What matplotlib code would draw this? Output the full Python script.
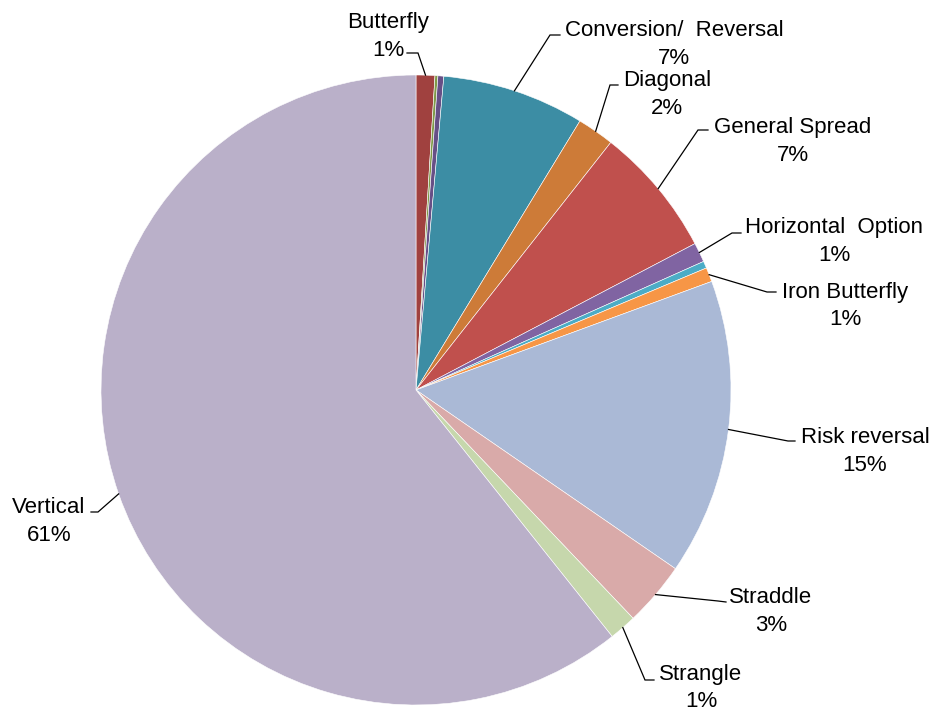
import numpy as np
import matplotlib
matplotlib.use("Agg")
import matplotlib.pyplot as plt

plt.rcParams["font.family"] = ["Liberation Sans", "DejaVu Sans"]

# ----------------------------------------------------------------------
# Data (share of trades by strategy, %), clockwise from 12 o'clock
# ----------------------------------------------------------------------
categories = [
    "Butterfly", "", "", "Conversion/  Reversal", "Diagonal",
    "General Spread", "Horizontal  Option", "", "Iron Butterfly",
    "Risk reversal", "Straddle", "Strangle", "Vertical",
]
shares = [0.96, 0.15, 0.30, 7.3, 1.9, 6.7, 1.0, 0.36, 0.73, 15.2, 3.3, 1.4, 60.7]
colors = [
    "#A0413F", "#7F9A48", "#674F86", "#3C8DA4", "#CD7B38",
    "#C0504D", "#8064A2", "#4BACC6", "#F79646",
    "#AAB9D6", "#D9AAA9", "#C6D7AC", "#BAB0C9",
]

# ----------------------------------------------------------------------
# Layout (pixels): label centre x, name-line centre y, line gap,
# leader elbow, leader end
# ----------------------------------------------------------------------
W, H = 939, 711
CX, CY, R = 416, 390, 315
label_layout = {
    0: (388, 20, 28, (418, 53), (407, 53)),
    3: (674, 28, 28, (550, 35), (560, 35)),
    4: (667, 78, 28, (610, 85), (618, 85)),
    5: (793, 125, 28, (698, 130), (708, 130)),
    6: (834, 225, 28, (732, 233), (741, 233)),
    8: (845, 290, 27, (767, 292), (776, 292)),
    9: (865, 435, 28, (788, 441), (795, 441)),
    10: (771, 595, 28, (718, 601), (726, 602)),
    11: (701, 672, 27, (645, 680), (654, 680)),
    12: (49, 505, 28, (98, 512), (91, 512)),
}
FONT_PT = 16
CAP_HALF = 8


def px(x, y):
    """pixel position -> data coordinates (pie radius = 1)"""
    return (x - CX) / R, (CY - y) / R


fig = plt.figure(figsize=(W / 100, H / 100), dpi=100)
ax = fig.add_axes([0, 0, 1, 1])

wedges, _ = ax.pie(
    shares, colors=colors, startangle=90, counterclock=False,
    radius=1.0, wedgeprops=dict(edgecolor="white", linewidth=0.4),
)

total = sum(shares)
for i, (tx, ty, gap, elbow, end) in label_layout.items():
    w = wedges[i]
    mid = np.deg2rad((w.theta1 + w.theta2) / 2)
    anchor = (np.cos(mid), np.sin(mid))
    ex, ey = px(*elbow)
    nx, ny = px(*end)
    ax.plot([anchor[0], ex, nx], [anchor[1], ey, ny], color="black", lw=0.9,
            solid_joinstyle="miter")

    pct = f"{round(shares[i] / total * 100):.0f}%"
    x0, y0 = px(tx, ty + CAP_HALF)
    x1, y1 = px(tx, ty + gap + CAP_HALF)
    ax.text(x0, y0, categories[i], ha="center", va="baseline", fontsize=FONT_PT)
    ax.text(x1, y1, pct, ha="center", va="baseline", fontsize=FONT_PT)

ax.set_xlim(-CX / R, (W - CX) / R)
ax.set_ylim((CY - H) / R, CY / R)
ax.set_aspect("auto")
ax.axis("off")

fig.savefig("out.png", dpi=100, facecolor="white")
